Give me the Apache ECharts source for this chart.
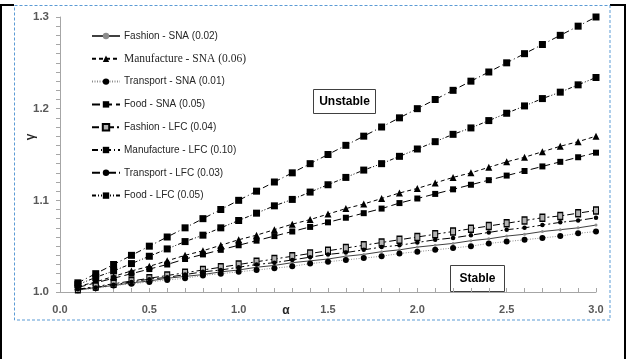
<!DOCTYPE html>
<html>
<head>
<meta charset="utf-8">
<script src="https://cdn.jsdelivr.net/npm/echarts@6/dist/echarts.min.js"></script>
<style>
  html, body { margin: 0; padding: 0; background: #fff; }
  #chart { width: 627px; height: 359px; }
</style>
</head>
<body>
<div id="chart"></div>
<script>
// α values along the x axis
const alphaValues = [0.1, 0.2, 0.3, 0.4, 0.5, 0.6, 0.7, 0.8, 0.9, 1.0,
                     1.1, 1.2, 1.3, 1.4, 1.5, 1.6, 1.7, 1.8, 1.9, 2.0,
                     2.1, 2.2, 2.3, 2.4, 2.5, 2.6, 2.7, 2.8, 2.9, 3.0];

// γ for each scenario
const fashionSNA = [1.002, 1.005, 1.007, 1.010, 1.012, 1.015, 1.017, 1.019, 1.022, 1.024,
                    1.027, 1.029, 1.032, 1.034, 1.036, 1.039, 1.041, 1.044, 1.046, 1.049,
                    1.051, 1.053, 1.056, 1.058, 1.061, 1.063, 1.066, 1.068, 1.070, 1.073];
const manufactureSNA = [1.006, 1.011, 1.017, 1.023, 1.028, 1.034, 1.040, 1.045, 1.051, 1.057,
                        1.062, 1.068, 1.074, 1.079, 1.085, 1.091, 1.096, 1.102, 1.108, 1.113,
                        1.119, 1.125, 1.130, 1.136, 1.142, 1.147, 1.153, 1.159, 1.164, 1.170];
const transportSNA = [1.002, 1.004, 1.007, 1.009, 1.011, 1.013, 1.015, 1.018, 1.020, 1.022,
                      1.024, 1.026, 1.028, 1.031, 1.033, 1.035, 1.037, 1.039, 1.042, 1.044,
                      1.046, 1.048, 1.050, 1.053, 1.055, 1.057, 1.059, 1.061, 1.064, 1.066];
const foodSNA = [1.005, 1.010, 1.015, 1.020, 1.025, 1.030, 1.036, 1.041, 1.046, 1.051,
                 1.056, 1.061, 1.066, 1.071, 1.076, 1.081, 1.086, 1.091, 1.097, 1.102,
                 1.107, 1.112, 1.117, 1.122, 1.127, 1.132, 1.137, 1.142, 1.147, 1.152];
const fashionLFC = [1.003, 1.006, 1.009, 1.012, 1.015, 1.018, 1.021, 1.024, 1.027, 1.030,
                    1.033, 1.036, 1.039, 1.042, 1.045, 1.048, 1.051, 1.054, 1.057, 1.060,
                    1.063, 1.066, 1.069, 1.072, 1.075, 1.078, 1.081, 1.083, 1.086, 1.089];
const manufactureLFC = [1.010, 1.020, 1.030, 1.040, 1.050, 1.060, 1.070, 1.080, 1.090, 1.100,
                        1.110, 1.120, 1.130, 1.140, 1.150, 1.160, 1.170, 1.180, 1.190, 1.200,
                        1.210, 1.220, 1.230, 1.240, 1.250, 1.260, 1.270, 1.280, 1.290, 1.300];
const transportLFC = [1.003, 1.005, 1.008, 1.011, 1.014, 1.016, 1.019, 1.022, 1.024, 1.027,
                      1.030, 1.032, 1.035, 1.038, 1.041, 1.043, 1.046, 1.049, 1.051, 1.054,
                      1.057, 1.059, 1.062, 1.065, 1.068, 1.070, 1.073, 1.076, 1.078, 1.081];
const foodLFC = [1.008, 1.016, 1.023, 1.031, 1.039, 1.047, 1.055, 1.062, 1.070, 1.078,
                 1.086, 1.094, 1.101, 1.109, 1.117, 1.125, 1.133, 1.140, 1.148, 1.156,
                 1.164, 1.172, 1.179, 1.187, 1.195, 1.203, 1.211, 1.218, 1.226, 1.234];

const seriesNames = [
  'Fashion - SNA (0.02)', 'Manufacture - SNA (0.06)', 'Transport - SNA (0.01)', 'Food - SNA (0.05)',
  'Fashion - LFC (0.04)', 'Manufacture - LFC (0.10)', 'Transport - LFC (0.03)', 'Food - LFC (0.05)'
];
const seriesValues = [fashionSNA, manufactureSNA, transportSNA, foodSNA,
                      fashionLFC, manufactureLFC, transportLFC, foodLFC];

// Line and marker look per scenario
const looks = [
  { line: '#404040', dash: 'solid', symbol: 'circle', size: 3, fill: '#8c8c8c', border: '#8c8c8c', bw: 0 },
  { line: '#000', dash: [4, 3], symbol: 'triangle', size: 7, fill: '#000', border: '#000', bw: 0 },
  { line: '#8c8c8c', dash: [1, 1.5], symbol: 'circle', size: 6, fill: '#000', border: '#000', bw: 0 },
  { line: '#000', dash: [8, 4], symbol: 'rect', size: 6, fill: '#000', border: '#000', bw: 0 },
  { line: '#000', dash: [7, 3, 2, 3], symbol: 'rect', size: [5, 7], fill: '#b3b3b3', border: '#000', bw: 1.2 },
  { line: '#000', dash: [6, 3, 1, 3], symbol: 'rect', size: 7, fill: '#000', border: '#000', bw: 0 },
  { line: '#000', dash: [8, 3, 2, 3], symbol: 'circle', size: 4.5, fill: '#000', border: '#000', bw: 0 },
  { line: '#000', dash: [4, 2, 1, 2, 1, 2], symbol: 'rect', size: 7, fill: '#000', border: '#000', bw: 0 }
];

const series = seriesNames.map((name, i) => ({
  name: name,
  type: 'line',
  data: alphaValues.map((a, j) => [a, seriesValues[i][j]]),
  symbol: looks[i].symbol,
  symbolSize: looks[i].size,
  showAllSymbol: true,
  lineStyle: { color: looks[i].line, width: 1, type: looks[i].dash },
  itemStyle: { color: looks[i].fill, borderColor: looks[i].border, borderWidth: looks[i].bw, opacity: 1 },
  emphasis: { disabled: true },
  z: 2 + i
}));

const legendData = seriesNames.map((name, i) => i === 1
  ? { name: name, textStyle: { fontFamily: 'Liberation Serif', fontSize: 11.5 } }
  : { name: name });

const chart = echarts.init(document.getElementById('chart'), null, { renderer: 'canvas' });

chart.setOption({
  animation: false,
  backgroundColor: '#fff',
  grid: { left: 60, top: 17, right: 31, bottom: 67, containLabel: false },
  legend: {
    orient: 'vertical',
    left: 91,
    top: 29,
    padding: 0,
    itemWidth: 28,
    itemHeight: 8,
    itemGap: 8.8,
    data: legendData,
    textStyle: { fontFamily: 'Liberation Sans', fontSize: 10, color: '#262626', lineHeight: 14, padding: [0, 0, 0, -1] },
    selectedMode: false
  },
  xAxis: {
    type: 'value',
    min: 0, max: 3, interval: 0.5,
    axisLine: { show: true, lineStyle: { color: '#a6a6a6', width: 1 } },
    axisTick: { show: true, inside: true, length: 4, lineStyle: { color: '#a6a6a6' } },
    minorTick: { show: true, splitNumber: 5, length: 4, lineStyle: { color: '#a6a6a6' } },
    splitLine: { show: false },
    axisLabel: {
      formatter: v => v.toFixed(1),
      fontFamily: 'Liberation Sans', fontSize: 11, fontWeight: 'bold', color: '#595959', margin: 12
    }
  },
  yAxis: {
    type: 'value',
    min: 1.0, max: 1.3, interval: 0.1,
    axisLine: { show: true, lineStyle: { color: '#a6a6a6', width: 1 } },
    axisTick: { show: true, inside: false, length: 4, lineStyle: { color: '#a6a6a6' } },
    minorTick: { show: true, splitNumber: 10, length: 4, lineStyle: { color: '#a6a6a6' } },
    splitLine: { show: false },
    axisLabel: {
      formatter: v => v.toFixed(1),
      fontFamily: 'Liberation Sans', fontSize: 11.5, fontWeight: 'bold', color: '#595959', margin: 11
    }
  },
  series: series,
  graphic: [
    // outer frame
    { type: 'line', shape: { x1: 1, y1: 5, x2: 1, y2: 359 }, style: { stroke: '#000', lineWidth: 2 }, z: 50 },
    { type: 'line', shape: { x1: 625, y1: 5, x2: 625, y2: 359 }, style: { stroke: '#000', lineWidth: 2 }, z: 50 },
    { type: 'line', shape: { x1: 0, y1: 5, x2: 14, y2: 5 }, style: { stroke: '#000', lineWidth: 2 }, z: 50 },
    { type: 'line', shape: { x1: 610, y1: 5, x2: 626, y2: 5 }, style: { stroke: '#000', lineWidth: 2 }, z: 50 },
    // chart area border
    { type: 'rect', shape: { x: 14.5, y: 5.5, width: 595.5, height: 314.5 },
      style: { fill: 'none', stroke: '#5b9bd5', lineWidth: 1, lineDash: [3, 2] }, z: 51 },
    // axis titles
    { type: 'text', x: 286, y: 311, style: { text: 'α', font: 'bold 12px "Liberation Sans"', fill: '#262626', align: 'center', verticalAlign: 'middle' }, z: 52 },
    { type: 'text', x: 31, y: 137, rotation: Math.PI / 2, style: { text: 'γ', font: 'bold 12px "Liberation Sans"', fill: '#262626', align: 'center', verticalAlign: 'middle' }, z: 52 },
    // region annotations
    { type: 'group', x: 313, y: 89, z: 60, children: [
      { type: 'rect', shape: { x: 0.5, y: 0.5, width: 62, height: 24 }, style: { fill: '#fff', stroke: '#404040', lineWidth: 1 } },
      { type: 'text', x: 31.5, y: 13, style: { text: 'Unstable', font: 'bold 12px "Liberation Sans"', fill: '#000', align: 'center', verticalAlign: 'middle' } }
    ]},
    { type: 'group', x: 450, y: 265, z: 60, children: [
      { type: 'rect', shape: { x: 0.5, y: 0.5, width: 54, height: 26 }, style: { fill: '#fff', stroke: '#404040', lineWidth: 1 } },
      { type: 'text', x: 27.5, y: 13.5, style: { text: 'Stable', font: 'bold 12px "Liberation Sans"', fill: '#000', align: 'center', verticalAlign: 'middle' } }
    ]}
  ]
});
</script>
</body>
</html>
